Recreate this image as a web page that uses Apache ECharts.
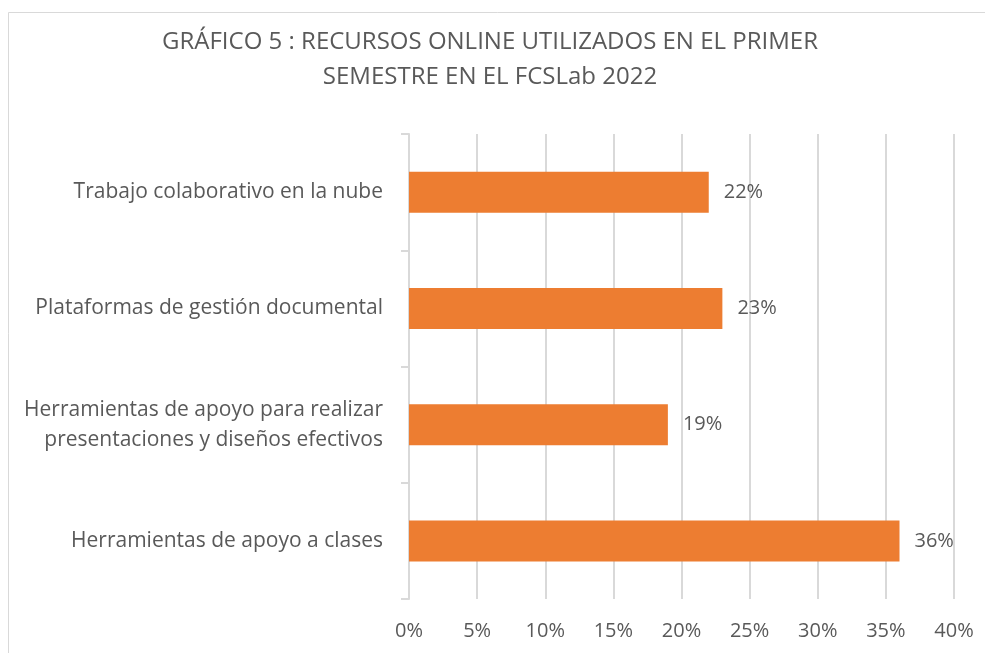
<!DOCTYPE html>
<html>
<head>
<meta charset="utf-8">
<script src="https://cdn.jsdelivr.net/npm/echarts@6/dist/echarts.min.js"></script>
<style>
html, body { margin: 0; padding: 0; background: #fff; }
#chart { width: 985px; height: 653px; }
</style>
</head>
<body>
<div id="chart"></div>
<script>
// categorias (de abajo hacia arriba, como las dibuja echarts)
const categorias = [
    "Herramientas de apoyo a clases",
    "Herramientas de apoyo para realizar\npresentaciones y diseños efectivos",
    "Plataformas de gestión documental",
    "Trabajo colaborativo en la nube"
];
// porcentajes
const valores = [36, 19, 23, 22];
// eje x
const ejeMin = 0;
const ejeMax = 40;
const ejePaso = 5;

const gris = "#595959";
const fuente = "'Open Sans', 'Noto Sans', sans-serif";

let myChart = echarts.init(document.getElementById("chart"));
let option = {
    backgroundColor: "#fff",
    animation: false,
    title: {
        text: "GRÁFICO 5 : RECURSOS ONLINE UTILIZADOS EN EL PRIMER\nSEMESTRE EN EL FCSLab 2022",
        left: 485,
        textAlign: "center",
        top: 20,
        textStyle: {
            fontFamily: fuente,
            fontWeight: "normal",
            fontSize: 24,
            lineHeight: 35,
            color: gris
        }
    },
    // borde del grafico
    graphic: [{
        type: "rect",
        shape: { x: 8.5, y: 12.5, width: 1000, height: 700 },
        style: { fill: "none", stroke: "#d9d9d9", lineWidth: 1 },
        silent: true
    }],
    grid: {
        left: 409,
        right: 31,
        top: 134,
        bottom: 54
    },
    xAxis: {
        type: "value",
        min: ejeMin,
        max: ejeMax,
        interval: ejePaso,
        axisLine: { show: false },
        axisTick: { show: false },
        axisLabel: {
            formatter: "{value}%",
            color: gris,
            fontFamily: fuente,
            fontSize: 20,
            margin: 22
        },
        splitLine: { lineStyle: { color: "#d9d9d9", width: 2 } }
    },
    yAxis: {
        type: "category",
        data: categorias,
        axisLine: { lineStyle: { color: "#d9d9d9", width: 2 } },
        axisTick: { show: true, length: 8, lineStyle: { color: "#d9d9d9", width: 2 } },
        axisLabel: {
            color: gris,
            fontFamily: fuente,
            fontSize: 21,
            lineHeight: 30,
            margin: 26,
            align: "right"
        }
    },
    series: [{
        type: "bar",
        data: valores,
        barWidth: 41,
        itemStyle: { color: "#ED7D31" },
        label: {
            show: true,
            position: "right",
            distance: 15,
            formatter: "{c}%",
            color: gris,
            fontFamily: fuente,
            fontSize: 20
        }
    }]
};
myChart.setOption(option, true);
</script>
</body>
</html>
